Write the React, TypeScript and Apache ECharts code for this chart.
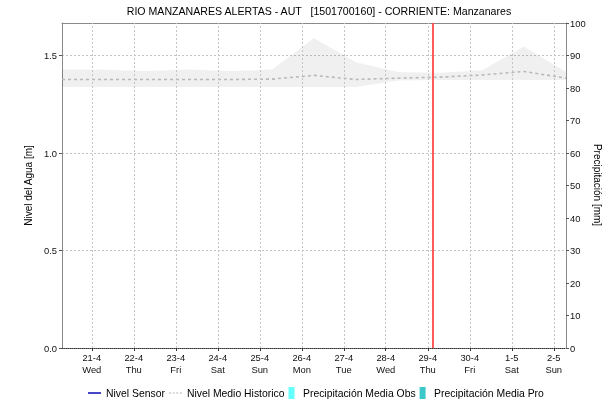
import React, { useEffect, useRef } from "react";
import * as echarts from "echarts";

// ---- data ----
const TITLE = "RIO MANZANARES ALERTAS - AUT   [1501700160] - CORRIENTE: Manzanares";
const LEFT_AXIS_NAME = "Nivel del Agua [m]";
const RIGHT_AXIS_NAME = "Precipitación [mm]";
const BASE = "2021-04-21T00:00:00Z";
const RANGE_START = "2021-04-20T07:00:00Z";
const RANGE_END = "2021-05-02T07:00:00Z";
const NOW_TIME = "2021-04-29T02:50:00Z";

const tickDates = [
  "2021-04-21", "2021-04-22", "2021-04-23", "2021-04-24", "2021-04-25", "2021-04-26",
  "2021-04-27", "2021-04-28", "2021-04-29", "2021-04-30", "2021-05-01", "2021-05-02",
];
const tickDayLabels = ["21-4", "22-4", "23-4", "24-4", "25-4", "26-4", "27-4", "28-4", "29-4", "30-4", "1-5", "2-5"];
const tickWeekdays = ["Wed", "Thu", "Fri", "Sat", "Sun", "Mon", "Tue", "Wed", "Thu", "Fri", "Sat", "Sun"];

const histTimes = [
  "2021-04-20T07:00:00Z", "2021-04-21T07:00:00Z", "2021-04-22T07:00:00Z", "2021-04-23T07:00:00Z",
  "2021-04-24T07:00:00Z", "2021-04-25T07:00:00Z", "2021-04-26T07:00:00Z", "2021-04-27T07:00:00Z",
  "2021-04-28T07:00:00Z", "2021-04-29T07:00:00Z", "2021-04-30T07:00:00Z", "2021-05-01T07:00:00Z",
  "2021-05-02T07:00:00Z",
];
const histMin = [1.338, 1.338, 1.338, 1.338, 1.338, 1.338, 1.338, 1.338, 1.372, 1.375, 1.375, 1.375, 1.375];
const histMax = [1.428, 1.427, 1.42, 1.428, 1.42, 1.428, 1.59, 1.466, 1.415, 1.412, 1.425, 1.546, 1.415];
const histMean = [1.377, 1.377, 1.377, 1.377, 1.377, 1.379, 1.398, 1.377, 1.384, 1.389, 1.4, 1.418, 1.384];

const sensorTimes: string[] = [];
const sensorLevel: number[] = [];
const precipObs: number[] = [];
const precipPro: number[] = [];

const LEVEL_MAX = 5 / 3;
const PRECIP_MAX = 100;

// ---- helpers ----
const DAY = 86400000;
const base = Date.parse(BASE);
const toDay = (s: string) => (Date.parse(s.length === 10 ? s + "T00:00:00Z" : s) - base) / DAY;
const tickValues = tickDates.map(toDay);

const LINE_ICON = "path://M0,0h18v2h-18z";
const DASH_ICON = "path://M0,0h3v1.4h-3zM5,0h3v1.4h-3zM10,0h3v1.4h-3zM15,0h3v1.4h-3z";
const BOX_ICON = "path://M0,0h6v12h-6z";

export default function App() {
  const ref = useRef<HTMLDivElement>(null);

  useEffect(() => {
    if (!ref.current) return;
    const chart = echarts.init(ref.current, undefined, { renderer: "svg" });
    const font = "'Liberation Sans', Arial, sans-serif";
    const xMin = toDay(RANGE_START);
    const xMax = toDay(RANGE_END);

    const histX = histTimes.map(toDay);
    const bandData = histX.map((x, i) => [x, histMin[i], histMax[i]]);
    const meanData = histX.map((x, i) => [x, histMean[i]]);
    const sensorData = sensorTimes.map((t, i) => [toDay(t), sensorLevel[i]]);

    const option: any = {
      animation: false,
      textStyle: { fontFamily: font },
      title: {
        text: TITLE,
        left: 314,
        top: 0,
        textAlign: "center",
        textStyle: { fontSize: 10.6, fontWeight: "normal", color: "#000", fontFamily: font },
      },
      graphic: [
        {
          type: "text",
          x: 597,
          y: 185,
          rotation: -Math.PI / 2,
          style: {
            text: RIGHT_AXIS_NAME,
            fontSize: 10,
            fill: "#000",
            fontFamily: font,
            textAlign: "center",
            textVerticalAlign: "middle",
          },
          silent: true,
        },
      ],
      grid: { left: 62, right: 44, top: 23, bottom: 54 },
      legend: {
        top: 382,
        left: 83,
        itemGap: 4,
        itemWidth: 13,
        itemHeight: 12,
        textStyle: { fontSize: 10.4, color: "#000", fontFamily: font },
        data: [
          { name: "Nivel Sensor", icon: LINE_ICON },
          { name: "Nivel Medio Historico", icon: DASH_ICON },
          { name: "Precipitación Media Obs", icon: BOX_ICON },
          { name: "Precipitación Media Pro", icon: BOX_ICON },
        ],
      },
      xAxis: [
        {
          type: "value",
          min: xMin,
          max: xMax,
          position: "bottom",
          axisLine: { show: true, onZero: false, lineStyle: { color: "#333", type: [1, 1], width: 1 } },
          axisTick: { show: true, customValues: tickValues, length: 3, lineStyle: { color: "#333" } },
          axisLabel: {
            customValues: tickValues,
            margin: 3,
            fontSize: 9.4,
            lineHeight: 12,
            color: "#111",
            fontFamily: font,
            formatter: (v: number) => {
              const i = tickValues.findIndex((t) => Math.abs(t - v) < 1e-6);
              return i >= 0 ? tickDayLabels[i] + "\n" + tickWeekdays[i] : "";
            },
          },
          splitLine: { show: false },
        },
        {
          type: "value",
          min: xMin,
          max: xMax,
          position: "top",
          axisLine: { show: true, onZero: false, lineStyle: { color: "#8a8a8a" } },
          axisTick: { show: false },
          axisLabel: { show: false },
          splitLine: { show: false },
        },
      ],
      yAxis: [
        {
          type: "value",
          min: 0,
          max: LEVEL_MAX,
          interval: 0.5,
          position: "left",
          name: LEFT_AXIS_NAME,
          nameLocation: "middle",
          nameGap: 22,
          nameTextStyle: { fontSize: 10, color: "#000", fontFamily: font },
          axisLine: { show: true, onZero: false, lineStyle: { color: "#8a8a8a" } },
          axisTick: { show: true, length: 3, lineStyle: { color: "#555" } },
          axisLabel: {
            fontSize: 9.4,
            color: "#111",
            margin: 5,
            fontFamily: font,
            showMaxLabel: false,
            formatter: (v: number) => v.toFixed(1),
          },
          splitLine: { show: true, lineStyle: { color: "#c4c4c4", type: [2, 2] } },
        },
        {
          type: "value",
          min: 0,
          max: PRECIP_MAX,
          interval: 10,
          position: "right",
          axisLine: { show: true, onZero: false, lineStyle: { color: "#8a8a8a" } },
          axisTick: { show: true, length: 3, lineStyle: { color: "#555" } },
          axisLabel: { fontSize: 9.4, color: "#111", margin: 4, fontFamily: font },
          splitLine: { show: false },
        },
      ],
      series: [
        {
          name: "band",
          type: "custom",
          data: bandData,
          encode: { x: 0, y: [1, 2] },
          silent: true,
          z: 1,
          renderItem: (params: any, api: any) => {
            if (params.dataIndex !== 0) return null;
            const pts: number[][] = [];
            for (let i = 0; i < histX.length; i++) pts.push(api.coord([histX[i], histMax[i]]));
            for (let i = histX.length - 1; i >= 0; i--) pts.push(api.coord([histX[i], histMin[i]]));
            return {
              type: "polygon",
              shape: { points: pts },
              style: { fill: "rgba(0,0,0,0.06)", stroke: "none" },
            };
          },
        },
        {
          name: "Nivel Medio Historico",
          type: "line",
          data: meanData,
          symbol: "none",
          lineStyle: { color: "#b8b8b8", width: 1.6, type: [3, 3] },
          itemStyle: { color: "#b8b8b8" },
          z: 3,
        },
        {
          name: "Nivel Sensor",
          type: "line",
          data: sensorData,
          symbol: "none",
          lineStyle: { color: "#0000b0", width: 1.5 },
          itemStyle: { color: "#0000b0" },
          z: 4,
        },
        {
          name: "Precipitación Media Obs",
          type: "bar",
          yAxisIndex: 1,
          data: precipObs,
          itemStyle: { color: "#66ffff" },
        },
        {
          name: "Precipitación Media Pro",
          type: "bar",
          yAxisIndex: 1,
          data: precipPro,
          itemStyle: { color: "#3cc8c8" },
        },
        {
          name: "grid-vertical",
          type: "line",
          data: [],
          silent: true,
          z: 2,
          markLine: {
            silent: true,
            symbol: "none",
            animation: false,
            label: { show: false },
            lineStyle: { color: "#c4c4c4", type: [2, 2], width: 1 },
            data: tickValues.map((v) => ({ xAxis: v })),
          },
        },
        {
          name: "now-line",
          type: "line",
          data: [],
          silent: true,
          z: 5,
          markLine: {
            silent: true,
            symbol: "none",
            animation: false,
            label: { show: false },
            lineStyle: { color: "#ff4a4a", type: "solid", width: 1.8 },
            data: [{ xAxis: toDay(NOW_TIME) }],
          },
        },
      ],
    };

    chart.setOption(option);
    return () => chart.dispose();
  }, []);

  return (
    <div
      ref={ref}
      style={{ position: "fixed", left: 0, top: 0, width: 610, height: 402 }}
    />
  );
}
